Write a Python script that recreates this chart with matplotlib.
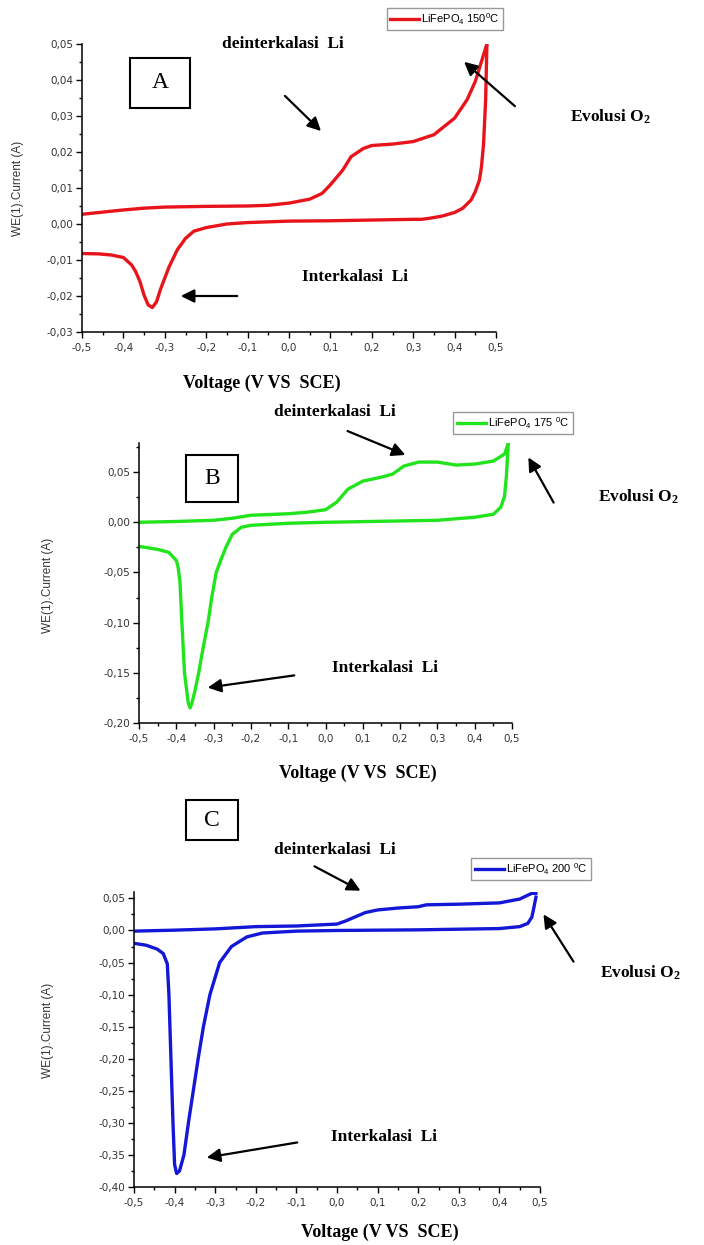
import numpy as np
import matplotlib
matplotlib.use("Agg")
import matplotlib.pyplot as plt
from matplotlib.ticker import MultipleLocator, FuncFormatter
from matplotlib.patches import Rectangle, FancyArrowPatch

# ---- data (forward scan, then reverse scan) ----
a_fwd_v = [-0.50, -0.45, -0.40, -0.35, -0.30, -0.20, -0.10, -0.05, 0.00, 0.05, 0.08, 0.10,
           0.13, 0.15, 0.18, 0.20, 0.25, 0.30, 0.35, 0.40, 0.43, 0.45, 0.47, 0.478]
a_fwd_i = [0.0027, 0.0033, 0.0039, 0.0044, 0.0047, 0.0049, 0.0050, 0.0052, 0.0058, 0.0069, 0.0085, 0.0109,
           0.0150, 0.0187, 0.0210, 0.0218, 0.0222, 0.0229, 0.0248, 0.0294, 0.0345, 0.0396, 0.0470, 0.0500]
a_rev_v = [0.478, 0.475, 0.470, 0.465, 0.460, 0.450, 0.440, 0.420, 0.400, 0.370, 0.340, 0.320, 0.300,
           0.200, 0.100, 0.000, -0.100, -0.150, -0.200, -0.230, -0.250, -0.270, -0.290, -0.310,
           -0.320, -0.330, -0.340, -0.350, -0.360, -0.370, -0.380, -0.400, -0.430, -0.460, -0.500]
a_rev_i = [0.0500, 0.0345, 0.0224, 0.0160, 0.0122, 0.0090, 0.0067, 0.0044, 0.0032, 0.0022, 0.0016, 0.0013, 0.0013,
           0.0011, 0.0009, 0.0008, 0.0004, 0.0000, -0.0010, -0.0020, -0.0040, -0.0072, -0.0120, -0.0180,
           -0.0216, -0.0232, -0.0225, -0.0198, -0.0160, -0.0133, -0.0114, -0.0093, -0.0086, -0.0083, -0.0082]

b_fwd_v = [-0.50, -0.40, -0.30, -0.25, -0.20, -0.10, -0.05, 0.00, 0.03, 0.06, 0.10, 0.15, 0.18,
           0.21, 0.25, 0.30, 0.35, 0.40, 0.45, 0.48, 0.49]
b_fwd_i = [0.0000, 0.0008, 0.0020, 0.0040, 0.0070, 0.0085, 0.0100, 0.0125, 0.0200, 0.0330, 0.0410, 0.0450, 0.0480,
           0.0560, 0.0600, 0.0600, 0.0570, 0.0580, 0.0610, 0.0680, 0.0785]
b_rev_v = [0.490, 0.485, 0.480, 0.470, 0.450, 0.400, 0.300, 0.000, -0.100, -0.200, -0.226, -0.250, -0.267,
           -0.280, -0.293, -0.305, -0.315, -0.328, -0.340, -0.350, -0.358, -0.363, -0.368, -0.373,
           -0.378, -0.385, -0.390, -0.395, -0.400, -0.420, -0.450, -0.500]
b_rev_i = [0.0785, 0.0460, 0.0260, 0.0150, 0.0080, 0.0050, 0.0020, 0.0000, -0.0010, -0.0030, -0.0050, -0.0120, -0.0250,
           -0.0370, -0.0500, -0.0750, -0.1000, -0.1250, -0.1500, -0.1680, -0.1800, -0.1850, -0.1800, -0.1650,
           -0.1500, -0.1000, -0.0600, -0.0450, -0.0380, -0.0300, -0.0270, -0.0240]

c_fwd_v = [-0.50, -0.40, -0.30, -0.20, -0.10, 0.00, 0.02, 0.07, 0.10, 0.15, 0.20, 0.22, 0.30,
           0.40, 0.45, 0.47, 0.48, 0.49]
c_fwd_i = [-0.0010, 0.0005, 0.0025, 0.0060, 0.0070, 0.0100, 0.0145, 0.0280, 0.0320, 0.0350, 0.0370, 0.0400, 0.0410,
           0.0430, 0.0490, 0.0550, 0.0580, 0.0580]
c_rev_v = [0.490, 0.485, 0.480, 0.470, 0.450, 0.400, 0.200, 0.000, -0.100, -0.184, -0.222, -0.260, -0.289,
           -0.313, -0.329, -0.342, -0.354, -0.366, -0.377, -0.388, -0.395, -0.400, -0.404, -0.409,
           -0.414, -0.418, -0.428, -0.443, -0.470, -0.500]
c_rev_i = [0.0520, 0.0360, 0.0210, 0.0110, 0.0060, 0.0030, 0.0010, 0.0000, -0.0010, -0.0040, -0.0100, -0.0250, -0.0500,
           -0.1000, -0.1500, -0.2000, -0.2500, -0.3000, -0.3500, -0.3750, -0.3790, -0.3650, -0.3000, -0.2000,
           -0.1000, -0.0520, -0.0360, -0.0290, -0.0230, -0.0200]

labels = ["LiFePO$_{4}$ 150$^{0}$C", "LiFePO$_{4}$ 175 $^{0}$C", "LiFePO$_{4}$ 200 $^{0}$C"]
colors = ["#e8141b", "#22e41c", "#1417d6"]
letters = ["A", "B", "C"]

W, H = 704, 1245
fig = plt.figure(figsize=(W / 100, H / 100), dpi=100)
plt.rcParams['mathtext.fontset'] = 'custom'
plt.rcParams['mathtext.rm'] = 'Liberation Sans'
plt.rcParams['mathtext.it'] = 'Liberation Sans'
plt.rcParams['mathtext.bf'] = 'Liberation Serif:bold'


def fx(x):
    return x / W


def fy(y):
    return 1 - y / H


def make_axes(left, right, top, bottom):
    return fig.add_axes([fx(left), fy(bottom), (right - left) / W, (bottom - top) / H])


def arrow(x0, y0, x1, y1):
    fig.add_artist(FancyArrowPatch((fx(x0), fy(y0)), (fx(x1), fy(y1)), transform=fig.transFigure,
                                   arrowstyle='-|>', mutation_scale=20, lw=1.6, color='k'))


def serif_text(x, y, s, size=12.5, **kw):
    fig.text(fx(x), fy(y), s, ha='center', va='center', family='Liberation Serif',
             fontweight='bold', fontsize=size, **kw)


def letter_box(x0, x1, y0, y1, s):
    fig.add_artist(Rectangle((fx(x0), fy(y1)), (x1 - x0) / W, (y1 - y0) / H, transform=fig.transFigure,
                             fill=False, lw=1.5, ec='k'))
    fig.text(fx((x0 + x1) / 2), fy((y0 + y1) / 2), s, ha='center', va='center',
             family='Liberation Serif', fontsize=17)


panels = [
    dict(box=(82, 496, 44, 332), ylim=(-0.03, 0.05), major=0.01, minor=0.005,
         fwd=(a_fwd_v, a_fwd_i), rev=(a_rev_v, a_rev_i), ylab=(18, 188), leg=(445, 19)),
    dict(box=(139, 512, 443, 723), ylim=(-0.20, 0.079), major=0.05, minor=0.025,
         fwd=(b_fwd_v, b_fwd_i), rev=(b_rev_v, b_rev_i), ylab=(48, 585), leg=(513, 423)),
    dict(box=(134, 540, 892, 1187), ylim=(-0.40, 0.06), major=0.05, minor=0.025,
         fwd=(c_fwd_v, c_fwd_i), rev=(c_rev_v, c_rev_i), ylab=(48, 1030), leg=(531, 869)),
]

for k, p in enumerate(panels):
    ax = make_axes(*p['box'])
    ax.plot(p['fwd'][0], p['fwd'][1], color=colors[k], lw=2.4, solid_joinstyle='round', label=labels[k])
    ax.plot(p['rev'][0], p['rev'][1], color=colors[k], lw=2.4, solid_joinstyle='round')
    ax.set_xlim(-0.5, 0.5)
    ax.set_ylim(*p['ylim'])
    for s in ['top', 'right']:
        ax.spines[s].set_visible(False)
    for s in ['left', 'bottom']:
        ax.spines[s].set_linewidth(1.1)
    ax.xaxis.set_major_locator(MultipleLocator(0.1))
    ax.xaxis.set_minor_locator(MultipleLocator(0.05))
    ax.yaxis.set_major_locator(MultipleLocator(p['major']))
    ax.yaxis.set_minor_locator(MultipleLocator(p['minor']))
    ax.xaxis.set_major_formatter(FuncFormatter(lambda v, pos: f"{v:.1f}".replace(".", ",").replace("-0,0", "0,0")))
    ax.yaxis.set_major_formatter(FuncFormatter(lambda v, pos: f"{v:.2f}".replace(".", ",").replace("-0,00", "0,00")))
    ax.tick_params(which='major', direction='out', length=4, width=1, labelsize=7.5,
                   labelcolor='#333333', pad=2)
    ax.tick_params(axis='x', which='major', pad=4)
    ax.tick_params(which='minor', direction='out', length=2.5, width=1)
    ax.patch.set_alpha(0)
    fig.text(fx(p['ylab'][0]), fy(p['ylab'][1]), "WE(1).Current (A)", rotation=90, ha='center', va='center',
             family='Liberation Sans', fontsize=8.5, color='#333333')
    lg = ax.legend(loc='center', bbox_to_anchor=(fx(p['leg'][0]), fy(p['leg'][1])),
                   bbox_transform=fig.transFigure, fancybox=False, framealpha=1, edgecolor='#999999',
                   prop=dict(family='Liberation Sans', size=8), handlelength=2.6, handletextpad=0.2,
                   borderpad=0.3, borderaxespad=0)
    lg.get_frame().set_linewidth(1.0)

evo = r"Evolusi O$_{\mathbf{2}}$"

# ---- panel A annotations ----
letter_box(130, 190, 58, 108, letters[0])
serif_text(283, 44, "deinterkalasi  Li")
arrow(283, 94, 323, 133)
serif_text(610, 117, evo)
arrow(517, 108, 462, 60)
serif_text(355, 277, "Interkalasi  Li")
arrow(240, 296, 178, 296)
serif_text(262, 383, "Voltage (V VS  SCE)", size=13)

# ---- panel B annotations ----
letter_box(186, 238, 455, 502, letters[1])
serif_text(335, 412, "deinterkalasi  Li")
arrow(345, 430, 408, 456)
serif_text(638, 497, evo)
arrow(555, 505, 527, 455)
serif_text(385, 668, "Interkalasi  Li")
arrow(297, 675, 205, 688)
serif_text(358, 773, "Voltage (V VS  SCE)", size=13)

# ---- panel C annotations ----
letter_box(186, 238, 800, 840, letters[2])
serif_text(335, 850, "deinterkalasi  Li")
arrow(312, 865, 363, 892)
serif_text(640, 973, evo)
arrow(575, 964, 542, 912)
serif_text(384, 1137, "Interkalasi  Li")
arrow(300, 1142, 204, 1158)
serif_text(380, 1232, "Voltage (V VS  SCE)", size=13)

fig.savefig("out.png", dpi=100)
